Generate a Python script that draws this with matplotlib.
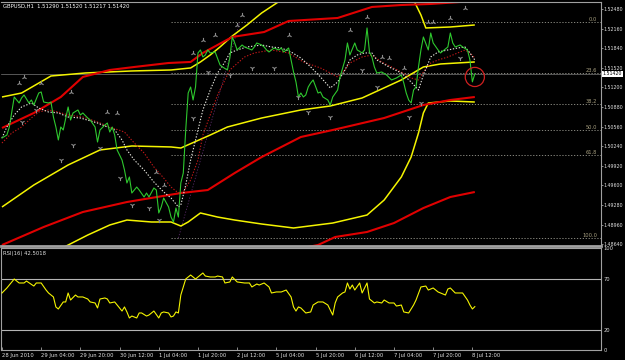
import matplotlib
matplotlib.use("Agg")
import matplotlib.pyplot as plt

# ---------------- data ----------------
SYMBOL = "GBPUSD,H1"
LAST_OHLC = [1.51290, 1.51520, 1.51217, 1.51420]
RSI_PERIOD = 16
RSI_LAST = 42.5018

TICK_BARS = [0, 16, 32, 48, 64, 80, 96, 112, 128, 144, 160, 176, 192]
TICK_LABELS = ["28 Jun 2010", "29 Jun 04:00", "29 Jun 20:00", "30 Jun 12:00",
               "1 Jul 04:00", "1 Jul 20:00", "2 Jul 12:00", "5 Jul 04:00",
               "5 Jul 20:00", "6 Jul 12:00", "7 Jul 04:00", "7 Jul 20:00",
               "8 Jul 12:00"]
PRICE_TICKS = [1.52480, 1.52160, 1.51840, 1.51520, 1.51200, 1.50880, 1.50560,
               1.50240, 1.49920, 1.49600, 1.49280, 1.48960, 1.48640]

# close price (bar index, price)
CLOSE = [(0,1.50374),(2,1.50422),(3,1.50553),(5,1.51043),(7,1.50945),(8,1.51027),(9,1.51076),
 (11,1.50945),(12,1.50994),(13,1.50912),(15,1.51108),(16,1.51125),(17,1.50961),(19,1.50945),
 (20,1.50961),(21,1.50716),(22,1.50553),(23,1.50341),(24,1.50553),(25,1.50504),(27,1.50880),
 (28,1.50667),(29,1.50782),(31,1.50831),(32,1.50749),(33,1.50782),(35,1.50700),(36,1.50667),
 (38,1.50553),(39,1.50308),(40,1.50504),(42,1.50586),(43,1.50618),(44,1.50471),(45,1.50553),
 (46,1.50422),(47,1.50178),(49,1.50014),(50,1.49851),(51,1.49639),(52,1.49737),(53,1.49475),
 (55,1.49573),(56,1.49524),(58,1.49410),(59,1.49475),(60,1.49410),(62,1.49557),(63,1.49524),
 (64,1.49149),(65,1.49247),(66,1.49394),(68,1.49247),(69,1.49083),(70,1.49002),(71,1.49230),
 (72,1.49083),(73,1.49639),(74,1.49802),(75,1.50504),(76,1.51108),(77,1.51206),(78,1.50994),
 (79,1.51206),(80,1.51762),(81,1.51811),(82,1.51696),(83,1.51729),(84,1.51811),(85,1.51762),
 (87,1.51778),(89,1.51566),(90,1.51533),(92,1.51484),(93,1.51680),(94,1.52023),(95,1.51925),
 (96,1.51811),(98,1.51892),(99,1.51860),(100,1.51843),(102,1.51811),(103,1.51860),(104,1.51925),
 (106,1.51892),(107,1.51860),(108,1.51811),(109,1.51778),(110,1.51811),(111,1.51843),
 (113,1.51811),(114,1.51843),(115,1.51778),(116,1.51811),(117,1.51843),(118,1.51647),
 (119,1.51451),(120,1.51288),(121,1.51043),(122,1.51108),(123,1.51043),(124,1.51076),
 (125,1.51206),(126,1.51272),(127,1.51321),(129,1.51108),(130,1.51125),(131,1.51043),
 (133,1.50994),(134,1.50912),(135,1.51043),(137,1.51157),(138,1.51370),(140,1.51647),
 (141,1.51925),(142,1.51729),(144,1.51925),(145,1.51811),(147,1.51762),(148,1.51811),
 (149,1.52170),(150,1.51778),(151,1.51696),(152,1.51533),(153,1.51435),(155,1.51451),
 (157,1.51402),(159,1.51321),(161,1.51353),(163,1.51402),(164,1.51272),(165,1.51108),
 (166,1.50994),(167,1.50945),(168,1.51157),(169,1.51206),(170,1.51533),(171,1.51811),
 (172,1.52023),(174,1.51811),(175,1.52088),(176,1.51925),(178,1.51811),(179,1.51762),
 (182,1.51860),(183,1.52088),(184,1.51925),(185,1.51860),(187,1.51892),(188,1.51860),
 (190,1.51811),(191,1.51647),(192,1.51290),(193,1.51420)]

FAST_MA = [(0,1.50374),(2,1.50553),(5,1.50749),(8,1.50880),(12,1.50945),(15,1.50863),
 (19,1.50798),(23,1.50782),(27,1.50716),(32,1.50700),(39,1.50618),(46,1.50504),(49,1.50341),
 (51,1.50178),(54,1.50014),(58,1.49851),(62,1.49655),(66,1.49492),(69,1.49394),(72,1.49247),
 (73,1.49279),(75,1.49606),(77,1.50014),(80,1.50504),(82,1.50831),(85,1.51157),(88,1.51435),
 (91,1.51615),(93,1.51762),(96,1.51811),(100,1.51860),(106,1.51892),(110,1.51860),
 (114,1.51843),(118,1.51778),(122,1.51680),(126,1.51533),(130,1.51370),(134,1.51190),
 (137,1.51288),(140,1.51484),(142,1.51647),(145,1.51729),(148,1.51762),(151,1.51762),
 (153,1.51647),(158,1.51533),(163,1.51435),(167,1.51288),(170,1.51157),(172,1.51402),
 (175,1.51696),(178,1.51778),(182,1.51811),(186,1.51843),(189,1.51860),(191,1.51762),
 (193,1.51647)]

SLOW_MA = [(0,1.50292),(4,1.50455),(8,1.50553),(12,1.50700),(15,1.50798),(19,1.50831),
 (23,1.50798),(27,1.50749),(33,1.50716),(39,1.50635),(44,1.50553),(50,1.50471),(54,1.50292),
 (58,1.50129),(62,1.49900),(66,1.49720),(69,1.49573),(72,1.49475),(74,1.49492),(77,1.49688),
 (80,1.50014),(82,1.50422),(85,1.50749),(88,1.51076),(91,1.51321),(93,1.51484),(99,1.51696),
 (103,1.51762),(110,1.51811),(117,1.51762),(123,1.51615),(130,1.51517),(134,1.51435),
 (137,1.51370),(140,1.51484),(142,1.51598),(147,1.51696),(151,1.51729),(155,1.51615),
 (159,1.51533),(163,1.51451),(167,1.51353),(170,1.51321),(172,1.51451),(175,1.51598),
 (178,1.51647),(182,1.51696),(186,1.51762),(189,1.51811),(191,1.51762),(193,1.51680)]

YELLOW_UPPER = [(0,1.51043),(8,1.51108),(20,1.51386),(34,1.51435),(53,1.51468),(69,1.51484),
 (77,1.51517),(81,1.51615),(85,1.51729),(89,1.51860),(94,1.52039),(100,1.52219),(106,1.52415),
 (114,1.52627),(125,1.52900),(140,1.53020),(155,1.52950),(165,1.52750),(168,1.52627),
 (171,1.52382),(173,1.52170),(183,1.52186),(193,1.52219)]
YELLOW_MID = [(0,1.49247),(13,1.49606),(27,1.49933),(40,1.50178),(53,1.50243),(69,1.50227),
 (73,1.50210),(85,1.50422),(92,1.50553),(106,1.50700),(122,1.50831),(134,1.50896),
 (147,1.51027),(163,1.51321),(172,1.51533),(179,1.51582),(193,1.51615)]
YELLOW_LOWER = [(0,1.48150),(14,1.48350),(27,1.48626),(35,1.48789),(44,1.48953),(51,1.49034),
 (61,1.49002),(69,1.49002),(73,1.48936),(76,1.49002),(81,1.49149),(88,1.49083),(95,1.49034),
 (106,1.48969),(119,1.48904),(135,1.48985),(149,1.49116),(156,1.49361),(163,1.49737),
 (167,1.50063),(170,1.50455),(172,1.50782),(174,1.50945),(183,1.50978),(193,1.50961)]
RED_UPPER = [(0,1.50537),(13,1.50782),(24,1.51043),(33,1.51370),(44,1.51484),(54,1.51533),
 (68,1.51598),(77,1.51615),(82,1.51762),(94,1.52023),(107,1.52104),(117,1.52284),
 (137,1.52333),(151,1.52513),(163,1.52545),(175,1.52562),(187,1.52594),(193,1.52627)]
RED_MID = [(0,1.48626),(17,1.48920),(33,1.49165),(51,1.49328),(73,1.49475),(84,1.49524),
 (95,1.49802),(106,1.50063),(122,1.50390),(135,1.50504),(156,1.50700),(172,1.50912),
 (183,1.50994),(193,1.51043)]
RED_LOWER = [(110,1.48480),(129,1.48626),(136,1.48757),(149,1.48839),(160,1.48985),
 (172,1.49230),(183,1.49410),(193,1.49492)]

FRACTAL_UP = [(7,1.51272),(9,1.51370),(16,1.51272),(28,1.51125),(43,1.50798),(47,1.50782),
 (63,1.49818),(66,1.49606),(78,1.51762),(82,1.51974),(87,1.52056),(96,1.52219),(98,1.52382),
 (117,1.52056),(142,1.52137),(149,1.52349),(155,1.51696),(158,1.51680),(164,1.51517),
 (174,1.52268),(176,1.52268),(183,1.52333),(189,1.52496)]
FRACTAL_DOWN = [(8,1.50635),(14,1.50831),(24,1.50014),(29,1.50259),(40,1.50210),(48,1.49720),
 (53,1.49279),(60,1.49230),(64,1.49034),(78,1.50700),(84,1.51451),(93,1.51402),(102,1.51517),
 (111,1.51517),(121,1.51043),(125,1.50798),(134,1.50716),(147,1.51484),(153,1.51206),
 (166,1.50716),(171,1.50945),(187,1.51680)]

RSI = [(0,55.9),(2,60.8),(4,66.7),(5,69.6),(7,65.7),(9,65.7),(10,67.6),(13,62.7),(14,65.7),
 (16,65.7),(18,58.8),(19,55.9),(21,52.0),(22,42.2),(23,40.2),(25,47.1),(26,47.1),(27,55.9),
 (28,49.0),(30,53.9),(31,52.0),(33,52.0),(35,50.0),(36,47.1),(38,46.1),(39,41.2),(40,50.0),
 (42,51.0),(43,50.0),(44,46.1),(46,47.1),(47,44.1),(49,38.2),(50,42.2),(51,37.3),(52,31.4),
 (53,33.3),(55,31.4),(56,36.3),(57,36.3),(59,33.3),(60,34.3),(62,38.2),(64,31.4),(65,36.3),
 (66,37.3),(68,36.3),(69,32.4),(70,33.3),(71,37.3),(72,36.3),(73,53.9),(75,69.6),(76,71.6),
 (77,73.5),(79,69.6),(80,71.6),(82,75.5),(83,72.5),(85,71.6),(87,71.6),(88,72.5),(90,71.6),
 (91,65.7),(93,66.7),(94,71.6),(96,66.7),(99,65.7),(101,65.7),(102,61.8),(104,64.7),
 (105,63.7),(107,65.7),(109,61.8),(110,55.9),(112,56.9),(114,56.9),(116,58.8),(118,52.0),
 (119,42.2),(120,38.2),(121,42.2),(122,41.2),(124,36.3),(126,37.3),(127,44.1),(129,47.1),
 (131,47.1),(133,44.1),(134,39.2),(135,34.3),(136,46.1),(137,52.0),(139,55.9),(140,56.9),
 (141,65.7),(142,59.8),(143,63.7),(144,58.8),(146,65.7),(147,55.9),(149,65.7),(150,50.0),
 (152,46.1),(153,47.1),(155,46.1),(156,49.0),(158,46.1),(160,46.1),(161,43.1),(163,44.1),
 (164,37.3),(166,36.3),(168,44.1),(169,49.0),(171,61.8),(173,62.7),(174,58.8),(176,60.8),
 (178,56.9),(179,55.9),(181,53.9),(182,59.8),(183,60.8),(185,55.9),(187,55.9),(188,55.9),
 (190,49.0),(191,44.1),(192,40.2),(193,42.5)]
RSI_LEVELS = [70, 20]

FIB_HIGH = 1.52268
FIB_LOW = 1.48741
FIB_START_BAR = 69
FIB_END_BAR = 97
FIB_LEVELS = [0.0, 23.6, 38.2, 50.0, 61.8, 100.0]

CIRCLE_BAR = 193
CIRCLE_PRICE = 1.51370

# ---------------- figure ----------------
W, H = 625, 360
fig = plt.figure(figsize=(W / 100, H / 100), dpi=100)
fig.patch.set_facecolor("black")

ax = fig.add_axes([1 / W, 114 / H, 600 / W, 244 / H])
rax = fig.add_axes([1 / W, 10 / H, 600 / W, 102 / H])

XMIN, XMAX = -0.4, 244.5
frame = "#a0a0a0"
txt = "#e0e0e0"
FS = 3.4
for a in (ax, rax):
    a.set_facecolor("black")
    for s in a.spines.values():
        s.set_color(frame)
        s.set_linewidth(0.8)
    a.set_xlim(XMIN, XMAX)
ax.spines["bottom"].set_linewidth(2.0)
ax.spines["left"].set_visible(False)

def xy(pairs):
    return [p[0] for p in pairs], [p[1] for p in pairs]

# fibonacci
rng = FIB_HIGH - FIB_LOW
for lv in FIB_LEVELS:
    p = FIB_HIGH - rng * lv / 100.0
    ax.hlines(p, FIB_START_BAR, XMAX, colors="#9a9a90", linestyles=(0, (1.5, 2.0)), lw=0.6, zorder=1)
    ax.text(0.994, p, f"{lv:.1f}", transform=ax.get_yaxis_transform(), ha="right", va="bottom",
            fontsize=FS + 0.3, color="#a8a080", zorder=5)
ax.plot([FIB_START_BAR + 3, FIB_END_BAR], [FIB_LOW, FIB_HIGH], color="#5a2a6a",
        ls=(0, (1.5, 2.0)), lw=0.6, zorder=1)

# bid line
ax.axhline(LAST_OHLC[3], color="#7a7a7a", lw=0.5, zorder=1)

# bands
for data, col, lw in [(YELLOW_UPPER, "#f4f400", 1.1), (YELLOW_MID, "#f4f400", 1.1),
                      (YELLOW_LOWER, "#f4f400", 1.1), (RED_UPPER, "#e00000", 1.5),
                      (RED_MID, "#e00000", 1.5), (RED_LOWER, "#e00000", 1.5)]:
    x, y = xy(data)
    ax.plot(x, y, color=col, lw=lw, zorder=2, solid_capstyle="butt")

# moving averages
x, y = xy(SLOW_MA)
ax.plot(x, y, color="#c01818", lw=0.8, ls=(0, (1.2, 1.5)), zorder=3)
x, y = xy(FAST_MA)
ax.plot(x, y, color="#e8e8e0", lw=0.8, ls=(0, (1.2, 1.5)), zorder=3)

# close
x, y = xy(CLOSE)
ax.plot(x, y, color="#2ec82e", lw=0.8, zorder=4)

# fractals
x, y = xy(FRACTAL_UP)
ax.scatter(x, y, marker="2", s=14, color="#8c8c8c", linewidths=0.8, zorder=4)
x, y = xy(FRACTAL_DOWN)
ax.scatter(x, y, marker="1", s=14, color="#8c8c8c", linewidths=0.8, zorder=4)

# circle
ax.scatter([CIRCLE_BAR], [CIRCLE_PRICE], s=190, facecolors="none", edgecolors="#d02020",
           linewidths=0.9, zorder=5)

ax.set_ylim(1.48610, 1.52594)
ax.yaxis.tick_right()
ax.set_yticks(PRICE_TICKS)
ax.set_yticklabels([f"{p:.5f}" for p in PRICE_TICKS])
ax.tick_params(axis="y", colors=frame, labelcolor=txt, labelsize=FS, length=1.5, width=0.6, pad=0.6)
ax.tick_params(axis="x", bottom=False, labelbottom=False)
ax.text(1.0025, LAST_OHLC[3], f"{LAST_OHLC[3]:.5f}", transform=ax.get_yaxis_transform(),
        ha="left", va="center", fontsize=FS, color="black", clip_on=False, zorder=6,
        bbox=dict(facecolor="white", edgecolor="none", pad=0.5))

# RSI panel
x, y = xy(RSI)
rax.plot(x, y, color="#f4f400", lw=0.8, zorder=3)
for lv in RSI_LEVELS:
    rax.axhline(lv, color="#b4b4b4", lw=0.8, zorder=1)
rax.set_ylim(0, 100)
rax.yaxis.tick_right()
rax.set_yticks([100] + RSI_LEVELS + [0])
rax.set_yticklabels([str(v) for v in [100] + RSI_LEVELS + [0]])
rax.tick_params(axis="y", colors=frame, labelcolor=txt, labelsize=FS + 0.3, length=0, pad=2)
rax.set_xticks(TICK_BARS)
rax.set_xticklabels(TICK_LABELS, ha="left")
rax.tick_params(axis="x", colors=frame, labelcolor=txt, labelsize=FS + 0.4, length=2, width=0.6,
                direction="in", pad=2)

# header texts
fig.text(3 / W, 1 - 6 / H, f"{SYMBOL}  " + " ".join(f"{v:.5f}" for v in LAST_OHLC),
         fontsize=FS + 0.4, color="white", va="center", ha="left")
fig.text(3 / W, 1 - 254 / H, f"RSI({RSI_PERIOD}) {RSI_LAST:.4f}", fontsize=FS + 0.4, color=txt,
         va="center", ha="left")

fig.savefig("out.png", dpi=100, facecolor="black")
